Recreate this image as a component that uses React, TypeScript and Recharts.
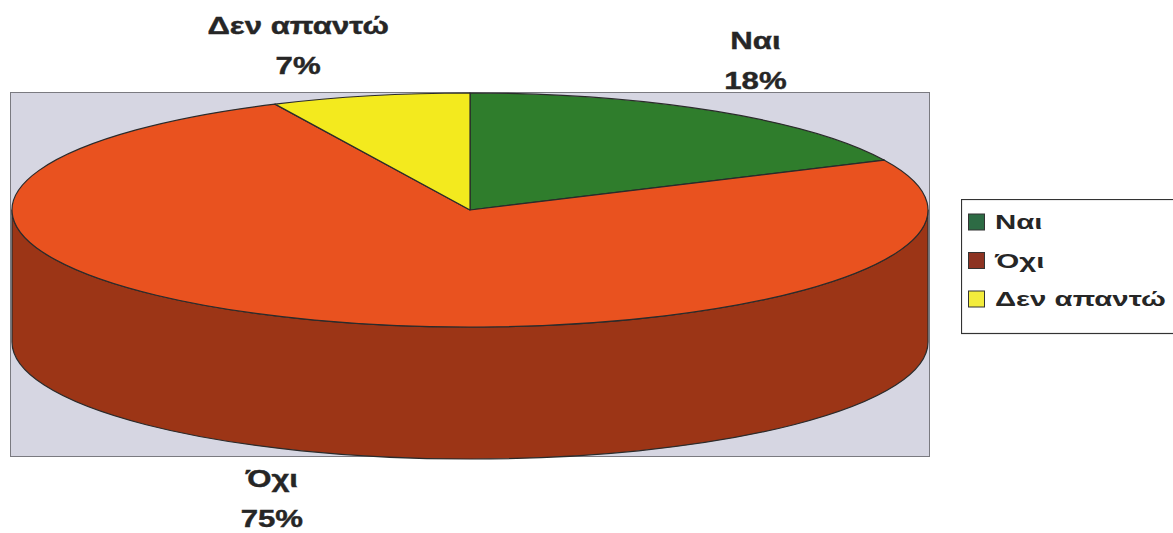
import React from "react";
import { PieChart, Pie, Legend } from "recharts";

// ---- data ----
const categories = ["Ναι", "Όχι", "Δεν απαντώ"];
const shares = [18, 75, 7];
const topColors = ["#2f7d2c", "#e9521f", "#f3ea1e"];
const sideColors = ["#1f5a1d", "#9c3516", "#b8ae10"];
const legendColors = ["#2d6b44", "#8d3322", "#f3ec3c"];

// ---- layout / style (not data) ----
const W = 1173;
const H = 533;
const CX = 470;
const CY = 210;
const RX = 458;
const TILT = 117 / 458;
const DEPTH = 132;
const EDGE = "#2b2b2b";
const FONT = "'Liberation Sans', Arial, sans-serif";
const LABEL_SHIFT: Record<string, number> = { "Ναι": 40, "Όχι": -43, "Δεν απαντώ": -72 };

const rad = (a: number) => (a * Math.PI) / 180;

function pt(cx: number, cy: number, rx: number, ry: number, a: number, dy = 0) {
  return [cx + rx * Math.cos(rad(a)), cy - ry * Math.sin(rad(a)) + dy];
}

function Slice3D(props: any) {
  const { cx, cy, outerRadius, startAngle, endAngle, payload } = props;
  const rx = outerRadius;
  const ry = outerRadius * TILT;
  const s = Math.max(startAngle, endAngle);
  const e = Math.min(startAngle, endAngle);
  const idx = categories.indexOf(payload?.name ?? props.name);
  const top = topColors[idx] ?? props.fill;
  const side = sideColors[idx] ?? props.fill;
  const sides: string[] = [];
  for (let k = -2; k <= 1; k++) {
    const lo = -180 + 360 * k;
    const hi = 360 * k;
    const a1 = Math.min(s, hi);
    const a2 = Math.max(e, lo);
    if (a1 > a2 + 0.01) {
      const p1 = pt(cx, cy, rx, ry, a1);
      const p2 = pt(cx, cy, rx, ry, a2);
      const q1 = pt(cx, cy, rx, ry, a1, DEPTH);
      const q2 = pt(cx, cy, rx, ry, a2, DEPTH);
      sides.push(
        `M${p1[0]},${p1[1]} A${rx},${ry} 0 0 1 ${p2[0]},${p2[1]} L${q2[0]},${q2[1]} A${rx},${ry} 0 0 0 ${q1[0]},${q1[1]} Z`
      );
    }
  }
  const ps = pt(cx, cy, rx, ry, s);
  const pe = pt(cx, cy, rx, ry, e);
  const large = s - e > 180 ? 1 : 0;
  const topPath = `M${cx},${cy} L${ps[0]},${ps[1]} A${rx},${ry} 0 ${large} 1 ${pe[0]},${pe[1]} Z`;
  return (
    <g>
      {sides.map((d, i) => (
        <path key={i} d={d} fill={side} stroke={EDGE} strokeWidth={1.2} strokeLinejoin="round" />
      ))}
      <path d={topPath} fill={top} stroke={EDGE} strokeWidth={1.2} strokeLinejoin="round" />
    </g>
  );
}

function SliceLabel(props: any) {
  const { cx, cy, outerRadius, midAngle, name, value } = props;
  const rx = outerRadius;
  const ry = outerRadius * TILT;
  const sin = Math.sin(rad(midAngle));
  const front = sin < 0;
  const p = pt(cx, cy, rx, ry, midAngle, front ? DEPTH : 0);
  const x = p[0] + (LABEL_SHIFT[name] ?? 0);
  const b1 = front ? p[1] + 35 : p[1] - 62;
  const b2 = b1 + 40;
  const common = {
    textAnchor: "middle" as const,
    fontFamily: FONT,
    fontWeight: 700,
    fontSize: 24,
    fill: "#262626",
    stroke: "#262626",
    strokeWidth: 0.4,
  };
  return (
    <g>
      <text {...common} transform={`translate(${x},${b1}) scale(1.3,1)`}>{name}</text>
      <text {...common} transform={`translate(${x},${b2}) scale(1.3,1)`}>{`${value}%`}</text>
    </g>
  );
}

function LegendBox(props: any) {
  const payload = props.payload ?? [];
  return (
    <svg width={214} height={136} style={{ display: "block" }}>
      <rect x={0.5} y={0.5} width={260} height={134} fill="#ffffff" stroke="#333" strokeWidth={1.2} />
      {categories.map((c, i) => {
        const item = payload.find((p: any) => p.value === c);
        const y = 30 + i * 38.5;
        return (
          <g key={c}>
            <rect x={7.5} y={y - 15} width={16} height={16} fill={legendColors[i]} stroke="#333" strokeWidth={1} />
            <text
              transform={`translate(34,${y}) scale(1.4,1)`}
              fontFamily={FONT}
              fontWeight={700}
              fontSize={21}
              fill="#262626"
            >
              {item ? item.value : c}
            </text>
          </g>
        );
      })}
    </svg>
  );
}

const pieData = categories.map((name, i) => ({ name, value: shares[i], fill: topColors[i] }));

export default function App() {
  return (
    <div style={{ position: "absolute", left: 0, top: 0, width: W, height: H, background: "#ffffff", overflow: "hidden" }}>
      <div
        style={{
          position: "absolute",
          left: 10,
          top: 92,
          width: 920,
          height: 365,
          background: "#d6d6e2",
          border: "1px solid #7a7a80",
          boxSizing: "border-box",
        }}
      />
      <PieChart width={W} height={H} margin={{ top: 0, right: 0, bottom: 0, left: 0 }}>
        <Pie
          data={pieData}
          dataKey="value"
          nameKey="name"
          cx={CX}
          cy={CY}
          outerRadius={RX}
          startAngle={90}
          endAngle={-270}
          stroke="none"
          isAnimationActive={false}
          labelLine={false}
          label={SliceLabel}
          shape={Slice3D}
          activeShape={Slice3D}
          inactiveShape={Slice3D}
        />
        <Legend
          content={LegendBox}
          wrapperStyle={{ position: "absolute", left: 961, top: 199, width: 214, height: 136 }}
        />
      </PieChart>
    </div>
  );
}
